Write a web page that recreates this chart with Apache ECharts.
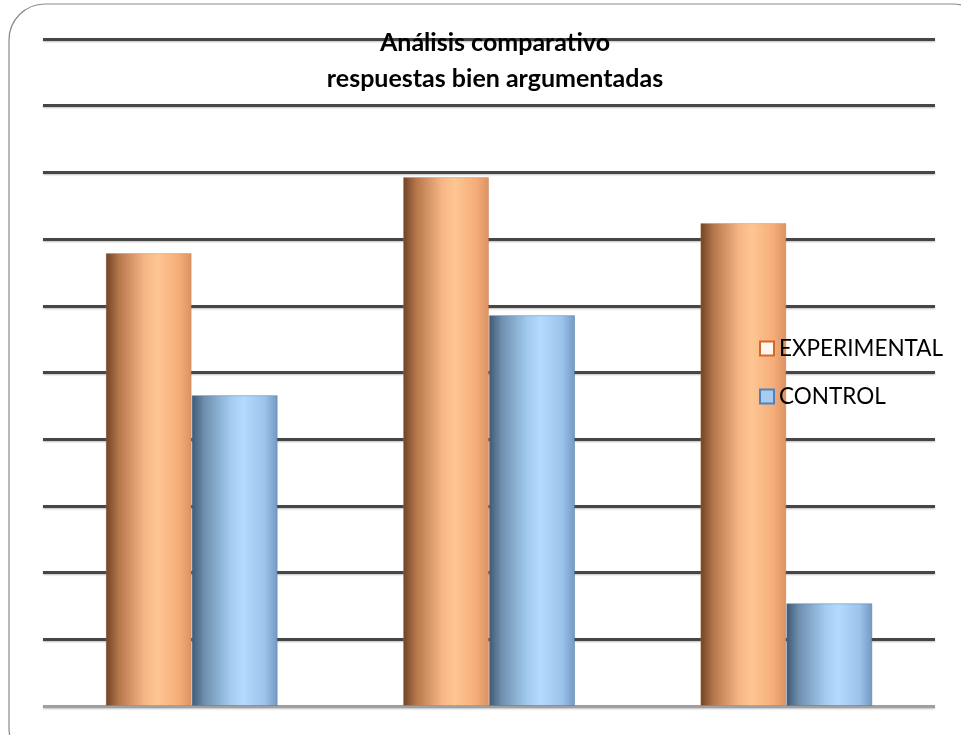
<!DOCTYPE html>
<html>
<head>
<meta charset="utf-8">
<script src="https://cdn.jsdelivr.net/npm/echarts@6/dist/echarts.min.js"></script>
<style>
  html, body { margin: 0; padding: 0; background: #ffffff; }
  #chart { width: 961px; height: 735px; }
</style>
</head>
<body>
<div id="chart"></div>
<script>
// Grupos comparados y respuestas bien argumentadas por grupo
const categories = ['1', '2', '3'];
const experimental = [6.79, 7.93, 7.24];
const control = [4.66, 5.86, 1.54];
const seriesNames = ['EXPERIMENTAL', 'CONTROL'];

const chart = echarts.init(document.getElementById('chart'));

const orangeFill = new echarts.graphic.LinearGradient(0, 0, 1, 0, [
  { offset: 0, color: '#6e4126' },
  { offset: 0.15, color: '#b5764a' },
  { offset: 0.45, color: '#f6b585' },
  { offset: 0.6, color: '#fdc693' },
  { offset: 0.85, color: '#f6ad78' },
  { offset: 1, color: '#d99262' }
]);
const blueFill = new echarts.graphic.LinearGradient(0, 0, 1, 0, [
  { offset: 0, color: '#3f5870' },
  { offset: 0.15, color: '#6f90b0' },
  { offset: 0.45, color: '#a2cbef' },
  { offset: 0.6, color: '#b3dbff' },
  { offset: 0.85, color: '#9cc3ea' },
  { offset: 1, color: '#7399c2' }
]);

const lineColors = ['#a0a0a0'];
for (let i = 1; i <= 10; i++) lineColors.push('#464646');

chart.setOption({
  animation: false,
  backgroundColor: '#ffffff',
  title: {
    text: 'Análisis comparativo\nrespuestas bien argumentadas',
    left: 490,
    top: 20,
    textAlign: 'center',
    textStyle: {
      fontFamily: 'Lato',
      fontWeight: 'bold',
      fontSize: 25,
      lineHeight: 36,
      color: '#000000'
    }
  },
  legend: {
    orient: 'vertical',
    left: 754,
    top: 332,
    itemWidth: 14,
    itemHeight: 14,
    itemGap: 25,
    icon: 'rect',
    textStyle: { fontFamily: 'Lato', fontSize: 22.5, color: '#000000', padding: [0, 0, 0, 0] },
    data: [
      { name: seriesNames[0], itemStyle: { color: '#fff6ee', borderColor: '#d2692c', borderWidth: 2 } },
      { name: seriesNames[1], itemStyle: { color: '#a8cbee', borderColor: '#4f82bd', borderWidth: 2 } }
    ]
  },
  grid: { left: 43, right: 26, top: 39, bottom: 29 },
  xAxis: {
    type: 'category',
    data: categories,
    axisLine: { show: false },
    axisTick: { show: false },
    axisLabel: { show: false }
  },
  yAxis: {
    type: 'value',
    min: 0,
    max: 10,
    interval: 1,
    axisLine: { show: false },
    axisTick: { show: false },
    axisLabel: { show: false },
    splitLine: {
      show: true,
      lineStyle: {
        color: lineColors,
        width: 3,
        shadowColor: 'rgba(0,0,0,0.25)',
        shadowBlur: 2,
        shadowOffsetY: 1
      }
    }
  },
  series: [
    {
      name: seriesNames[0],
      type: 'bar',
      data: experimental,
      barWidth: 86,
      barGap: '0%',
      itemStyle: { color: orangeFill, borderColor: 'rgba(200,110,60,0.35)', borderWidth: 1 }
    },
    {
      name: seriesNames[1],
      type: 'bar',
      data: control,
      barWidth: 86,
      itemStyle: { color: blueFill, borderColor: 'rgba(70,110,160,0.45)', borderWidth: 1 }
    }
  ],
  graphic: [
    {
      type: 'rect',
      z: -1,
      silent: true,
      shape: { x: 9, y: 4, width: 980, height: 760, r: 36 },
      style: { fill: 'none', stroke: '#8a8a8a', lineWidth: 1.2 }
    }
  ]
});
</script>
</body>
</html>
